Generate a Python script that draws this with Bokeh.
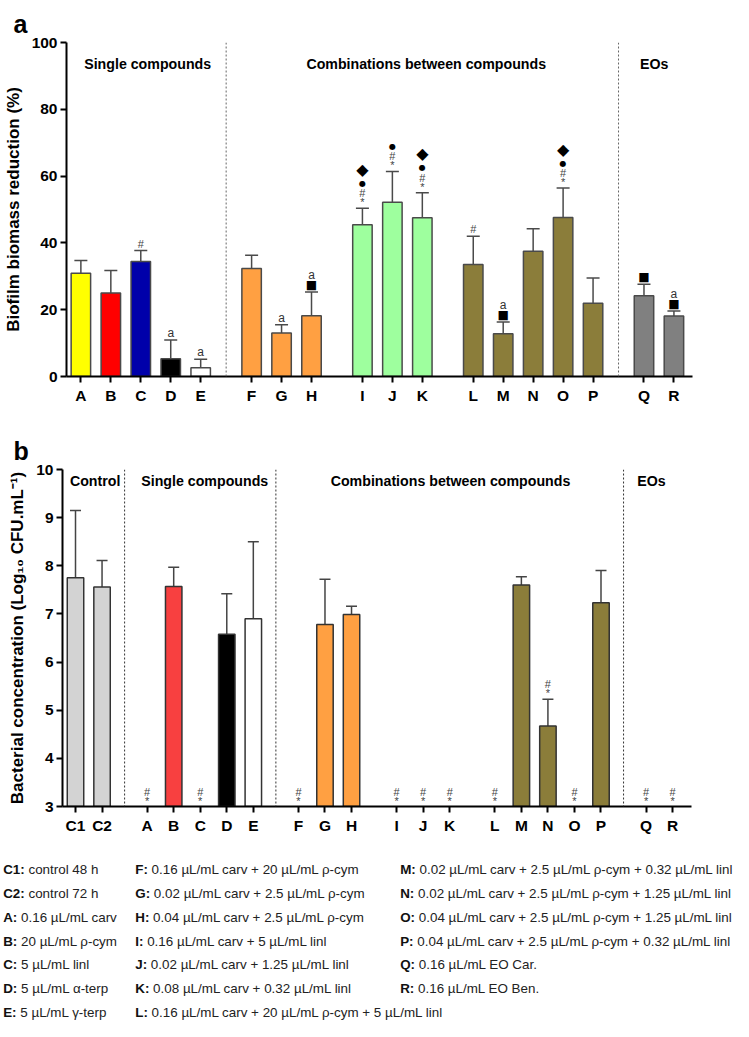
from bokeh.plotting import figure
from bokeh.models import Range1d, FixedTicker, Span, Whisker, TeeHead, ColumnDataSource, Title
from bokeh.layouts import column
from bokeh.embed import file_html
from bokeh.resources import INLINE
from bokeh.core.properties import value

# ---------------- data: panel a (biofilm biomass reduction, %) ----------------
cats_a = ["A", "B", "C", "D", "E", "F", "G", "H", "I", "J", "K", "L", "M", "N", "O", "P", "Q", "R"]
groups_a = [5, 3, 3, 5, 2]
biofilm_mean = [30.9, 25.0, 34.4, 5.3, 2.6, 32.3, 13.0, 18.2, 45.4, 52.2, 47.5, 33.5, 12.8, 37.5, 47.6, 21.9, 24.2, 18.1]
biofilm_sd = [3.8, 6.7, 3.3, 5.6, 2.6, 4.0, 2.5, 7.1, 5.0, 9.2, 7.5, 8.5, 3.5, 6.7, 8.8, 7.6, 3.4, 1.5]
colors_a = ["#FFFF00", "#FF0000", "#0000AA", "#000000", "#FFFFFF",
            "#FFA042", "#FFA042", "#FFA042",
            "#9EFF9E", "#9EFF9E", "#9EFF9E",
            "#8B7D3A", "#8B7D3A", "#8B7D3A", "#8B7D3A", "#8B7D3A",
            "#808080", "#808080"]
marks_a = {"C": "#", "D": "a", "E": "a", "G": "a", "H": "■a",
           "I": "*#●◆", "J": "*#●", "K": "*#●◆", "L": "#", "M": "■a",
           "O": "*#●◆", "Q": "■", "R": "■a"}
headers_a = ["Single compounds", "Combinations between compounds", "EOs"]
yticks_a = [0, 20, 40, 60, 80, 100]

# ---------------- data: panel b (bacterial concentration, log10 CFU/mL) ----------------
cats_b = ["C1", "C2", "A", "B", "C", "D", "E", "F", "G", "H", "I", "J", "K", "L", "M", "N", "O", "P", "Q", "R"]
groups_b = [2, 5, 3, 3, 5, 2]
cfu_mean = [7.75, 7.56, None, 7.57, None, 6.58, 6.90, None, 6.78, 6.99,
            None, None, None, None, 7.60, 4.67, None, 7.23, None, None]
cfu_sd = [1.40, 0.55, None, 0.40, None, 0.84, 1.60, None, 0.94, 0.17,
          None, None, None, None, 0.17, 0.56, None, 0.67, None, None]
colors_b = ["#D3D3D3", "#D3D3D3", "#FFFFFF", "#F84040", "#FFFFFF", "#000000", "#FFFFFF",
            "#FFFFFF", "#FFA042", "#FFA042", "#FFFFFF", "#FFFFFF", "#FFFFFF", "#FFFFFF",
            "#8B7D3A", "#8B7D3A", "#FFFFFF", "#8B7D3A", "#FFFFFF", "#FFFFFF"]
marks_b = {"A": "*#", "C": "*#", "F": "*#", "I": "*#", "J": "*#", "K": "*#",
           "L": "*#", "N": "*#", "O": "*#", "Q": "*#", "R": "*#"}
headers_b = ["Control", "Single compounds", "Combinations between compounds", "EOs"]
yticks_b = [3, 4, 5, 6, 7, 8, 9, 10]

# ---------------- legend text ----------------
legend_keys = ["C1", "C2", "A", "B", "C", "D", "E",
               "F", "G", "H", "I", "J", "K", "L",
               "M", "N", "O", "P", "Q", "R"]
legend_desc = ["control 48 h", "control 72 h", "0.16 µL/mL carv", "20 µL/mL ρ-cym",
               "5 µL/mL linl", "5 µL/mL α-terp", "5 µL/mL γ-terp",
               "0.16 µL/mL carv + 20 µL/mL ρ-cym", "0.02 µL/mL carv + 2.5 µL/mL ρ-cym",
               "0.04 µL/mL carv + 2.5 µL/mL ρ-cym", "0.16 µL/mL carv + 5 µL/mL linl",
               "0.02 µL/mL carv + 1.25 µL/mL linl", "0.08 µL/mL carv + 0.32 µL/mL linl",
               "0.16 µL/mL carv + 20 µL/mL ρ-cym + 5 µL/mL linl",
               "0.02 µL/mL carv + 2.5 µL/mL ρ-cym + 0.32 µL/mL linl",
               "0.02 µL/mL carv + 2.5 µL/mL ρ-cym + 1.25 µL/mL linl",
               "0.04 µL/mL carv + 2.5 µL/mL ρ-cym + 1.25 µL/mL linl",
               "0.04 µL/mL carv + 2.5 µL/mL ρ-cym + 0.32 µL/mL linl",
               "0.16 µL/mL EO Car.", "0.16 µL/mL EO Ben."]
legend_cols = [7, 7, 6]

# ---------------- layout helpers ----------------
FONT = "Liberation Sans"
W = 735
SX = 735 / 749
SY = 1021 / 1037


def positions(groups, slot=10.0, gap=17.0):
    pos, x = [], 0.0
    for n in groups:
        for _ in range(n):
            pos.append(x)
            x += slot
        x += gap - slot
    return pos


SYM_H = {"*": 8, "#": 10, "a": 10, "●": 10, "■": 10, "◆": 18}
SYM_FONT = {"*": FONT, "#": FONT, "a": FONT, "●": "DejaVu Sans", "■": "DejaVu Sans", "◆": "DejaVu Sans"}
SYM_SIZE = {"*": "11px", "#": "11px", "a": "12px", "●": "8px", "■": "12px", "◆": "16px"}
SYM_COL = {"*": "#444444", "#": "#444444", "a": "#333333", "●": "#000000", "■": "#000000", "◆": "#000000"}


def mark_source(cats, pos, bases, marks):
    d = dict(x=[], y=[], yo=[], t=[], f=[], s=[], c=[])
    for c, x, b in zip(cats, pos, bases):
        cur = 2.0
        for sym in marks.get(c, ""):
            h = SYM_H[sym]
            d["x"].append(x); d["y"].append(b); d["yo"].append(-(cur + h / 2.0))
            d["t"].append(sym); d["f"].append(SYM_FONT[sym]); d["s"].append(SYM_SIZE[sym]); d["c"].append(SYM_COL[sym])
            cur += h
    return ColumnDataSource(d)


def style_axes(p):
    p.outline_line_color = None
    p.xgrid.visible = False
    p.ygrid.visible = False
    p.background_fill_color = "white"
    p.border_fill_color = "white"
    for ax in (p.xaxis[0], p.yaxis[0]):
        ax.axis_line_width = 2
        ax.axis_line_color = "black"
        ax.major_tick_line_width = 2
        ax.major_tick_line_color = "black"
        ax.major_tick_out = 6
        ax.major_tick_in = 0
        ax.minor_tick_line_color = None
        ax.major_label_text_font = FONT
        ax.major_label_text_font_style = "bold"
        ax.major_label_text_font_size = "15.5px"
        ax.major_label_text_color = "black"
        ax.axis_label_text_font = FONT
        ax.axis_label_text_font_style = "bold"
        ax.axis_label_text_font_size = "17px"
        ax.axis_label_text_color = "black"
    p.yaxis[0].major_label_standoff = 3
    p.xaxis[0].major_label_standoff = 4


def panel_title(letter, offset):
    return Title(text=letter, text_font=FONT, text_font_style="bold", text_font_size="25px",
                 text_color="black", align="left", offset=offset, standoff=10, vertical_align="bottom")


# ---------------- panel a ----------------
pos_a = positions(groups_a)
fa = figure(width=W, height=415, x_range=Range1d(-4.8, 204.2), y_range=Range1d(0, 100),
            output_backend="svg", toolbar_location=None, frame_align=False,
            min_border_left=66, min_border_right=43, min_border_top=42, min_border_bottom=39)
style_axes(fa)
fa.yaxis[0].ticker = FixedTicker(ticks=yticks_a)
fa.xaxis[0].ticker = FixedTicker(ticks=pos_a)
fa.xaxis[0].major_label_overrides = {p: c for p, c in zip(pos_a, cats_a)}
fa.yaxis[0].axis_label = "Biofilm biomass reduction (%)"
fa.yaxis[0].axis_label_standoff = 6

for sep in [(pos_a[4] + pos_a[5]) / 2, (pos_a[15] + pos_a[16]) / 2]:
    fa.add_layout(Span(location=sep, dimension="height", line_color="#666666", line_width=1, line_dash="2 2"))

src_a = ColumnDataSource(dict(x=pos_a, top=biofilm_mean, color=colors_a,
                              upper=[m + s for m, s in zip(biofilm_mean, biofilm_sd)]))
fa.vbar(x="x", top="top", bottom=0, width=6.5, source=src_a, fill_color="color",
        line_color="#4a4a4a", line_width=1.5)
fa.add_layout(Whisker(base="x", lower="top", upper="upper", source=src_a,
                      upper_head=TeeHead(size=13, line_color="#4a4a4a", line_width=1.5),
                      lower_head=None, line_color="#4a4a4a", line_width=1.5))
ms_a = mark_source(cats_a, pos_a, src_a.data["upper"], marks_a)
fa.text(x="x", y="y", text="t", y_offset="yo", text_font="f", text_font_size="s", text_color="c",
        text_align="center", text_baseline="middle", source=ms_a)

hx_a = [22.3, 115.3, 191.4]
fa.text(x=hx_a, y=[93.5] * 3, text=headers_a, text_font=value(FONT), text_font_style="bold",
        text_font_size="14.2px", text_align="center", text_baseline="middle", text_color="black")
fa.title = panel_title("a", -53)

# ---------------- panel b ----------------
pos_b = positions(groups_b)
fb = figure(width=W, height=434, x_range=Range1d(-4.9, 232.1), y_range=Range1d(3, 10),
            output_backend="svg", toolbar_location=None, frame_align=False,
            min_border_left=62, min_border_right=44, min_border_top=54, min_border_bottom=43)
style_axes(fb)
fb.yaxis[0].ticker = FixedTicker(ticks=yticks_b)
fb.xaxis[0].ticker = FixedTicker(ticks=pos_b)
fb.xaxis[0].major_label_overrides = {p: c for p, c in zip(pos_b, cats_b)}
fb.yaxis[0].axis_label = "Bacterial concentration (Log₁₀ CFU.mL⁻¹)"
fb.yaxis[0].axis_label_standoff = 6

for sep in [(pos_b[1] + pos_b[2]) / 2, (pos_b[6] + pos_b[7]) / 2, (pos_b[17] + pos_b[18]) / 2]:
    fb.add_layout(Span(location=sep, dimension="height", line_color="#333333", line_width=1, line_dash="2 2"))

bx, btop, bup, bcol = [], [], [], []
for x, m, s, c in zip(pos_b, cfu_mean, cfu_sd, colors_b):
    if m is not None:
        bx.append(x); btop.append(m); bup.append(m + s); bcol.append(c)
src_b = ColumnDataSource(dict(x=bx, top=btop, upper=bup, color=bcol))
fb.vbar(x="x", top="top", bottom=3, width=6.2, source=src_b, fill_color="color",
        line_color="#333333", line_width=1.5)
fb.add_layout(Whisker(base="x", lower="top", upper="upper", source=src_b,
                      upper_head=TeeHead(size=11, line_color="#444444", line_width=1.5),
                      lower_head=None, line_color="#444444", line_width=1.5))
bases_b = [(m + s) if m is not None else 3 for m, s in zip(cfu_mean, cfu_sd)]
ms_b = mark_source(cats_b, pos_b, bases_b, marks_b)
fb.text(x="x", y="y", text="t", y_offset="yo", text_font="f", text_font_size="s", text_color="c",
        text_align="center", text_baseline="middle", source=ms_b)

hx_b = [7.4, 48.7, 141.3, 217.0]
fb.text(x=hx_b, y=[9.76] * 4, text=headers_b, text_font=value(FONT), text_font_style="bold",
        text_font_size="14.2px", text_align="center", text_baseline="middle", text_color="black")
fb.title = panel_title("b", -49)

# ---------------- legend ----------------
LH = 172
LTOP = 849
fl = figure(width=W, height=LH, x_range=Range1d(0, W), y_range=Range1d(LH, 0),
            x_axis_type=None, y_axis_type=None, output_backend="svg", toolbar_location=None,
            frame_align=False, min_border=0, min_border_left=0, min_border_right=0,
            min_border_top=0, min_border_bottom=0)
fl.outline_line_color = None
fl.xgrid.visible = False
fl.ygrid.visible = False

ADV = {"A": 722, "B": 722, "C": 722, "D": 722, "E": 667, "F": 611, "G": 778, "H": 722, "I": 278,
       "J": 556, "K": 722, "L": 611, "M": 833, "N": 722, "O": 778, "P": 667, "Q": 778, "R": 722,
       "1": 556, "2": 556, ":": 333}
FS = 13.4
col_x_ref = [2.7, 137.3, 407.3]
lx, ly, lk, lxo, ld = [], [], [], [], []
idx = 0
for ci, n in enumerate(legend_cols):
    for r in range(n):
        key = legend_keys[idx]
        lx.append(col_x_ref[ci] * SX)
        ly.append((882.7 + 24.2 * r) * SY - LTOP)
        lk.append(key + ":")
        lxo.append(sum(ADV[ch] for ch in key + ":") * FS / 1000 + 0.278 * FS)
        ld.append(legend_desc[idx])
        idx += 1
lsrc = ColumnDataSource(dict(x=lx, y=ly, k=lk, xo=lxo, d=ld))
fl.text(x="x", y="y", text="k", source=lsrc, text_font=value(FONT), text_font_style="bold",
        text_font_size=f"{FS}px", text_baseline="middle", text_align="left", text_color="#111111")
fl.text(x="x", y="y", text="d", x_offset="xo", source=lsrc, text_font=value(FONT),
        text_font_size=f"{FS}px", text_baseline="middle", text_align="left", text_color="#222222")

layout = column(fa, fb, fl)
open("out.html", "w").write(file_html(layout, INLINE))
